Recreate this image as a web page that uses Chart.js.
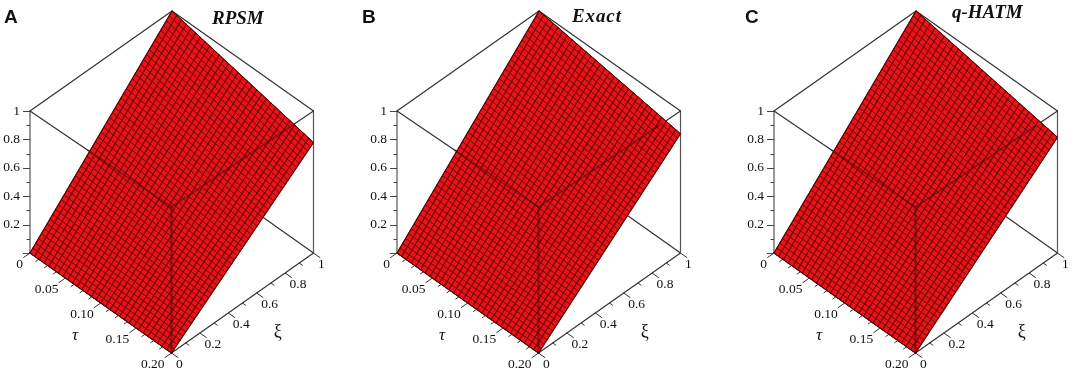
<!DOCTYPE html>
<html>
<head>
<meta charset="utf-8">
<title>RPSM / Exact / q-HATM</title>
<script src="https://cdn.jsdelivr.net/npm/chart.js@4"></script>
<style>
  html, body { margin: 0; padding: 0; background: #fff; }
  body { position: relative; width: 1079px; height: 376px; overflow: hidden; }
  canvas { position: absolute; top: 0; filter: blur(0.45px); }
  .letter { position: absolute; font: bold 19px "Liberation Sans", sans-serif; color: #111; line-height: 20px; }
  .method { position: absolute; font: italic bold 19px "Liberation Serif", serif; color: #111; line-height: 22px; }
</style>
</head>
<body>
<canvas id="panelA" width="335" height="376" style="left:0"></canvas>
<canvas id="panelB" width="335" height="376" style="left:367px"></canvas>
<canvas id="panelC" width="335" height="376" style="left:744px"></canvas>
<div class="letter" style="left:4px;top:7px">A</div>
<div class="letter" style="left:362px;top:7px">B</div>
<div class="letter" style="left:745px;top:7px">C</div>
<div class="method" style="left:212px;top:7px">RPSM</div>
<div class="method" style="left:572px;top:5px;letter-spacing:0.9px">Exact</div>
<div class="method" style="left:952px;top:1px">q-HATM</div>
<script>
// mesh lines of the surface
const tauGrid = [0,.0067,.0133,.02,.0267,.0333,.04,.0467,.0533,.06,.0667,.0733,.08,.0867,.0933,.1,.1067,.1133,.12,.1267,.1333,.14,.1467,.1533,.16,.1667,.1733,.18,.1867,.1933,.2];
const xiGrid = [0,.02,.04,.06,.08,.1,.12,.14,.16,.18,.2,.22,.24,.26,.28,.3,.32,.34,.36,.38,.4,.42,.44,.46,.48,.5,.52,.54,.56,.58,.6,.62,.64,.66,.68,.7,.72,.74,.76,.78,.8,.82,.84,.86,.88,.9,.92,.94,.96,.98,1];

// surface height read along the edges: at xi = 0 it is 0, at tau = 0 it equals xiGrid
const rpsmAtXiOne = [1,.993,.985,.978,.970,.963,.956,.948,.941,.933,.926,.919,.911,.904,.896,.889,.882,.874,.867,.859,.852,.845,.837,.830,.822,.815,.808,.800,.793,.785,.778];
const exactAtXiOne = [1,.995,.989,.984,.979,.973,.968,.963,.957,.952,.947,.941,.936,.931,.925,.920,.915,.909,.904,.899,.893,.888,.883,.877,.872,.867,.861,.856,.851,.845,.840];
const hatmAtXiOne = [1,.994,.988,.981,.975,.969,.963,.957,.951,.944,.938,.932,.926,.920,.914,.908,.901,.895,.889,.883,.877,.870,.864,.858,.852,.846,.840,.833,.827,.821,.815];

const rpsmAtTauEnd = [0,.016,.031,.047,.062,.078,.093,.109,.124,.140,.156,.171,.187,.202,.218,.233,.249,.265,.280,.296,.311,.327,.342,.358,.373,.389,.405,.420,.436,.451,.467,.482,.498,.513,.529,.545,.560,.576,.591,.607,.622,.638,.653,.669,.685,.700,.716,.731,.747,.762,.778];
const exactAtTauEnd = [0,.017,.034,.050,.067,.084,.101,.118,.134,.151,.168,.185,.202,.218,.235,.252,.269,.286,.302,.319,.336,.353,.370,.386,.403,.420,.437,.454,.470,.487,.504,.521,.538,.554,.571,.588,.605,.622,.638,.655,.672,.689,.706,.722,.739,.756,.773,.790,.806,.823,.840];
const hatmAtTauEnd = [0,.016,.033,.049,.065,.082,.098,.114,.130,.147,.163,.179,.196,.212,.228,.245,.261,.277,.293,.310,.326,.342,.359,.375,.391,.408,.424,.440,.456,.473,.489,.505,.522,.538,.554,.571,.587,.603,.619,.636,.652,.668,.685,.701,.717,.734,.750,.766,.782,.799,.815];

// axis ticks
const tauMajor = [0,.05,.1,.15,.2];
const tauLabels = ["0","0.05","0.10","0.15","0.20"];
const tauMinor = [.0125,.025,.0375,.0625,.075,.0875,.1125,.125,.1375,.1625,.175,.1875];
const xiMajor = [0,.2,.4,.6,.8,1];
const xiLabels = ["0","0.2","0.4","0.6","0.8","1"];
const xiMinor = [.1,.3,.5,.7,.9];
const uMajor = [0,.2,.4,.6,.8,1];
const uLabels = ["","0.2","0.4","0.6","0.8","1"];
const uMinor = [.1,.3,.5,.7,.9];

// tau, xi, u -> plane of the picture (the box is a bit taller at its front corner)
function project(tau, xi, u) {
  const t = tau / 0.2;
  return {
    x: 30 + 141.5 * t + 142 * xi,
    y: 253 + 100 * t - 100 * xi - u * (142 + 4 * t * (1 - xi))
  };
}

function line(points, color, width, order) {
  return {
    data: points.map(p => project(p[0], p[1], p[2])),
    showLine: true, pointRadius: 0, borderColor: color, borderWidth: width, order: order
  };
}

function buildDatasets(atXiOne, atTauEnd) {
  const sets = [];
  const boxColor = "#333";
  const seen = "rgba(50,0,0,0.38)";
  const meshColor = "rgba(95,0,0,0.85)";

  // box behind the surface
  sets.push(line([[0,0,1],[0,1,1],[.2,1,1]], boxColor, 1.2, 5));
  sets.push(line([[0,0,1],[.2,0,1],[.2,1,1]], boxColor, 1.2, 5));
  sets.push(line([[0,0,0],[0,0,1]], "#555", 1.2, 5));
  sets.push(line([[.2,1,0],[.2,1,1]], "#555", 1.2, 5));
  sets.push(line([[.2,1,0],[0,1,0]], boxColor, 1.2, 5));
  sets.push(line([[0,0,0],[.2,0,0],[.2,1,0]], boxColor, 1.2, 5));

  // ticks
  tauMajor.forEach(v => sets.push(line([[v,0,0],[v,-.045,0]], boxColor, 1, 5)));
  tauMinor.forEach(v => sets.push(line([[v,0,0],[v,-.022,0]], boxColor, 1, 5)));
  xiMajor.forEach(v => sets.push(line([[.2,v,0],[.209,v,0]], boxColor, 1, 5)));
  xiMinor.forEach(v => sets.push(line([[.2,v,0],[.2044,v,0]], boxColor, 1, 5)));

  // surface
  const last = tauGrid.length - 1;
  const surface = line([[0,0,0],[0,1,1],[.2,1,atXiOne[last]],[.2,0,0],[0,0,0]], "#400", 1, 4);
  surface.fill = "shape";
  surface.backgroundColor = "#e8141a";
  sets.push(surface);

  // mesh
  tauGrid.forEach((tau, i) => sets.push(line([[tau,0,0],[tau,1,atXiOne[i]]], meshColor, 1.2, 3)));
  xiGrid.forEach((xi, j) => sets.push(line([[0,xi,xiGrid[j]],[.2,xi,atTauEnd[j]]], meshColor, 1, 3)));

  // box edges showing through the surface, from where they enter it
  sets.push(line([[.082,0,1],[.2,0,1],[.2,.85,1]], seen, 2, 2));
  sets.push(line([[.2,0,1],[.2,0,0]], seen, 2.4, 2));
  return sets;
}

// tick labels and axis names, placed through the chart's scales
const axisText = {
  id: "axisText",
  afterDatasetsDraw(chart) {
    const c = chart.ctx;
    const sx = chart.scales.x, sy = chart.scales.y;
    const put = (text, p, dx, dy, align) => {
      c.textAlign = align;
      c.fillText(text, sx.getPixelForValue(p.x) + dx, sy.getPixelForValue(p.y) + dy);
    };
    c.save();
    c.fillStyle = "#111";
    c.textBaseline = "middle";
    c.font = '13.5px "Liberation Serif", serif';
    tauMajor.forEach((v, i) => put(tauLabels[i], project(v, 0, 0), -7, 11, "right"));
    xiMajor.forEach((v, i) => put(xiLabels[i], project(.2, v, 0), 4.5, 11, "left"));
    uMajor.forEach((v, i) => put(uLabels[i], project(0, 0, v), -10, 0, "right"));
    c.font = 'italic 17px "Liberation Serif", serif';
    put("τ", project(.114, -.251, 0), 0, 0, "center");
    c.font = '18px "Liberation Serif", serif';
    put("ξ", project(.254, .48, 0), 0, 0, "center");
    // ticks of the height axis stay horizontal
    c.strokeStyle = "#444";
    c.lineWidth = 1;
    uMajor.concat(uMinor).forEach(v => {
      const p = project(0, 0, v);
      const len = uMinor.includes(v) ? 3.5 : 7;
      const px = sx.getPixelForValue(p.x), py = Math.round(sy.getPixelForValue(p.y)) + .5;
      c.beginPath();
      c.moveTo(px - len, py);
      c.lineTo(px, py);
      c.stroke();
    });
    c.restore();
  }
};

function drawPanel(id, atXiOne, atTauEnd) {
  new Chart(document.getElementById(id), {
    type: "scatter",
    data: { datasets: buildDatasets(atXiOne, atTauEnd) },
    plugins: [axisText],
    options: {
      responsive: false,
      animation: false,
      layout: { padding: 0 },
      plugins: { legend: { display: false }, tooltip: { enabled: false }, title: { display: false } },
      elements: { line: { tension: 0, borderCapStyle: "round" } },
      scales: {
        x: { type: "linear", min: 0, max: 335, display: false },
        y: { type: "linear", min: 0, max: 376, reverse: true, display: false }
      }
    }
  });
}

drawPanel("panelA", rpsmAtXiOne, rpsmAtTauEnd);
drawPanel("panelB", exactAtXiOne, exactAtTauEnd);
drawPanel("panelC", hatmAtXiOne, hatmAtTauEnd);
</script>
</body>
</html>
